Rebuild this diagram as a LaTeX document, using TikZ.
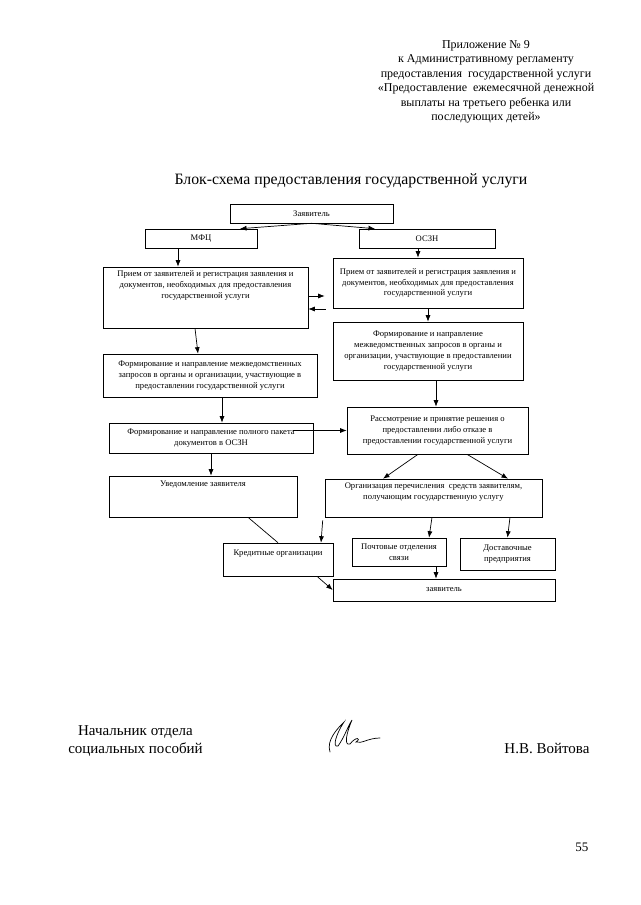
\documentclass[tikz,border=0pt]{standalone}
\usepackage{fontspec}
\setmainfont{Liberation Serif}
\usetikzlibrary{arrows.meta}
\begin{document}
\begin{tikzpicture}[x=1pt,y=-1pt,
		blok/.style={draw,line width=0.6pt,inner sep=0pt,align=center,font=\fontsize{8.6}{10.8}\selectfont},
		txt/.style={inner sep=0pt,align=center,font=\fontsize{8.6}{10.8}\selectfont},
		strl/.style={-{Latex[length=6.5pt,width=5pt]},line width=0.7pt}]
			\useasboundingbox (0,0) rectangle (640,905);
			% header and title
			\node[anchor=north,align=center,font=\fontsize{12}{14.5}\selectfont] (prilozh) at (486,37) {Приложение № 9\\к Административному регламенту\\предоставления\ \ государственной услуги\\«Предоставление\ \ ежемесячной денежной\\выплаты на третьего ребенка или\\последующих детей»};
			\node[font=\fontsize{15.8}{18}\selectfont] (zagol) at (351,181) {Блок-схема предоставления государственной услуги};
			% boxes
			\node[blok,minimum width=163,minimum height=19] (zayav) at (311.5,213.5) {Заявитель};
			\node[blok,minimum width=112,minimum height=19] (mfc) at (201,238.5) {МФЦ};
			\node[blok,minimum width=136,minimum height=19] (oszn) at (427,238.5) {ОСЗН};
			\node[blok,minimum width=205,minimum height=61] (lpriem) at (205.5,297.5) {};
			\node[txt,anchor=north] (lpriemT) at ([yshift=-4]lpriem.north) {Прием от заявителей и регистрация заявления и\\документов, необходимых для предоставления\\государственной услуги};
			\node[blok,minimum width=190,minimum height=50] (rpriem) at (428,283) {Прием от заявителей и регистрация заявления и\\документов, необходимых для предоставления\\государственной услуги};
			\node[blok,minimum width=190,minimum height=58] (rform) at (428,351) {Формирование и направление\\межведомственных запросов в органы и\\организации, участвующие в предоставлении\\государственной услуги};
			\node[blok,minimum width=214,minimum height=43] (lform) at (210,375.5) {Формирование и направление межведомственных\\запросов в органы и организации, участвующие в\\предоставлении государственной услуги};
			\node[blok,minimum width=181,minimum height=47] (rassm) at (437.5,430.5) {Рассмотрение и принятие решения о\\предоставлении либо отказе в\\предоставлении государственной услуги};
			\node[blok,minimum width=204,minimum height=30] (paket) at (211,438) {Формирование и направление полного пакета\\документов в ОСЗН};
			\node[blok,minimum width=188,minimum height=41] (uved) at (203,496.5) {};
			\node[txt,anchor=north] (uvedT) at ([yshift=-5]uved.north) {Уведомление заявителя};
			\node[blok,minimum width=217,minimum height=38] (org) at (433.5,498) {Организация перечисления\ \ средств заявителям,\\получающим государственную услугу\\[3pt]};
			\node[blok,minimum width=110,minimum height=33] (kred) at (278,559.5) {};
			\node[txt,anchor=north] (kredT) at ([yshift=-7]kred.north) {Кредитные организации};
			\node[blok,minimum width=94,minimum height=28] (poch) at (399,552) {Почтовые отделения\\связи};
			\node[blok,minimum width=95,minimum height=32] (dost) at (507.5,554) {Доставочные\\предприятия};
			\node[blok,minimum width=222,minimum height=22] (zayav2) at (444,590) {заявитель};
			% arrows
			\draw[strl] (zayav.south) -- ([xshift=39]mfc.north);
			\draw[strl] (zayav.south) -- ([xshift=-52]oszn.north);
			\draw[strl] ([xshift=-23]mfc.south) -- ([xshift=-23]mfc.south |- lpriem.north);
			\draw[strl] ([xshift=-9]oszn.south) -- ([xshift=-9]oszn.south |- rpriem.north);
			\draw[strl,shorten >=8pt] (lpriem.east |- 0,296) -- (rpriem.west |- 0,296);
			\draw[strl,shorten <=7pt] (rpriem.west |- 0,309) -- (lpriem.east |- 0,309);
			\draw[strl] ([xshift=-10.5]lpriem.south) -- ([xshift=-12]lform.north);
			\draw[strl] (rpriem.south) -- (rform.north);
			\draw[strl] ([xshift=8]rform.south) -- ([xshift=8]rform.south |- rassm.north);
			\draw[strl] ([xshift=12]lform.south) -- ([xshift=12]lform.south |- paket.north);
			\draw[strl] ([xshift=-20]paket.east |- rassm.west) -- (rassm.west);
			\draw[strl] (paket.south) -- (paket.south |- uved.north);
			\draw[strl] ([xshift=-19.5]rassm.south) -- ([xshift=-50.5]org.north);
			\draw[strl] ([xshift=29.5]rassm.south) -- ([xshift=74.5]org.north);
			\draw[line width=0.7pt] ([xshift=45]uved.south) -- (kred.north);
			\draw[strl] ([xshift=-2,yshift=-3]org.south west) -- ([xshift=43]kred.north);
			\draw[strl] ([xshift=-1.5]org.south) -- ([xshift=30]poch.north);
			\draw[strl] ([xshift=76.5]org.south) -- (dost.north);
			\draw[strl] ([xshift=37]poch.south) -- ([xshift=37]poch.south |- zayav2.north);
			\draw[strl] ([xshift=39]kred.south) -- (zayav2.west);
			% signature block
			\node[align=center,font=\fontsize{15}{17.5}\selectfont] (nachalnik) at (135.5,741) {Начальник отдела\\социальных пособий};
			\node[anchor=east,font=\fontsize{15}{17.5}\selectfont] (fio) at (593,748) {Н.В. Войтова};
			\draw[line width=0.7pt,line cap=round] (330,752) .. controls (326,740) and (338,728) .. (344,722)
				.. controls (336,734) and (332,748) .. (338,746) .. controls (344,738) and (348,726) .. (352,720)
				.. controls (346,734) and (344,746) .. (350,744) .. controls (356,736) and (362,738) .. (356,742)
				.. controls (362,744) and (368,738) .. (380,738);
			\node[anchor=east,font=\fontsize{13}{15}\selectfont] (stranica) at (592,847) {55};
		\end{tikzpicture}
\end{document}
